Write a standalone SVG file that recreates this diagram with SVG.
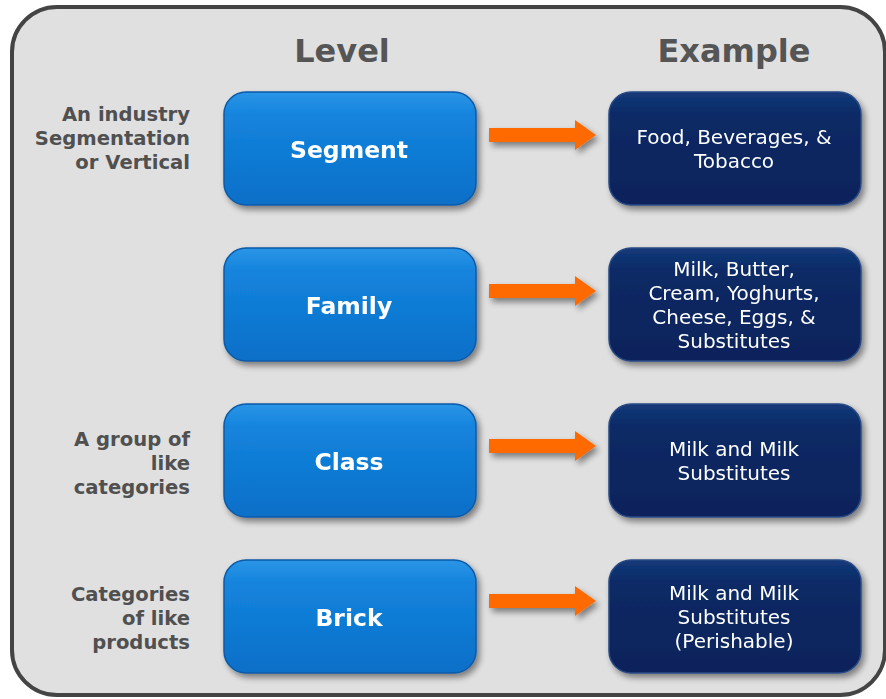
<svg xmlns="http://www.w3.org/2000/svg" width="886" height="699" viewBox="0 0 886 699">
<defs>
<linearGradient id="blue" x1="0" y1="0" x2="0" y2="1">
<stop offset="0" stop-color="#2b95e6"/>
<stop offset="0.2" stop-color="#1484dd"/>
<stop offset="1" stop-color="#0a6fc8"/>
</linearGradient>
<linearGradient id="navy" x1="0" y1="0" x2="0" y2="1">
<stop offset="0" stop-color="#143a7a"/>
<stop offset="0.2" stop-color="#0a2a66"/>
<stop offset="1" stop-color="#07235a"/>
</linearGradient>
<filter id="sh" x="-10%" y="-10%" width="125%" height="130%">
<feGaussianBlur in="SourceAlpha" stdDeviation="3"/>
<feOffset dx="3" dy="4" result="b"/>
<feComponentTransfer><feFuncA type="linear" slope="0.45"/></feComponentTransfer>
<feMerge><feMergeNode/><feMergeNode in="SourceGraphic"/></feMerge>
</filter>
</defs>
<style>
.hdr{font-family:"DejaVu Sans",Verdana,sans-serif;font-weight:bold;font-size:32px;fill:#555;text-anchor:middle}
.lab{font-family:"DejaVu Sans",Verdana,sans-serif;font-weight:bold;font-size:19.6px;fill:#505050;text-anchor:end}
.lvl rect{fill:url(#blue);stroke:#0a5aa8;stroke-width:1.5}
.lvl text{font-family:"DejaVu Sans",Verdana,sans-serif;font-weight:bold;font-size:23.5px;fill:#fff;text-anchor:middle}
.ex rect{fill:url(#navy);stroke:#2a4a84;stroke-width:1.5}
.ex text{font-family:"DejaVu Sans",Verdana,sans-serif;font-size:20px;fill:#fff;text-anchor:middle}
.arr{fill:#ff6a00}
</style>
<rect x="0" y="0" width="886" height="699" fill="#fff"/>
<rect id="frame" x="12" y="7" width="873" height="688" rx="45" fill="#e0e0e0" stroke="#444" stroke-width="4"/>
<g id="headers">
<text class="hdr" x="342" y="62">Level</text>
<text class="hdr" x="734" y="62">Example</text>
</g>
<g id="labels">
<text class="lab" x="190" y="121">An industry</text>
<text class="lab" x="190" y="145">Segmentation</text>
<text class="lab" x="190" y="169">or Vertical</text>
<text class="lab" x="190" y="446">A group of</text>
<text class="lab" x="190" y="470">like</text>
<text class="lab" x="190" y="494">categories</text>
<text class="lab" x="190" y="601">Categories</text>
<text class="lab" x="190" y="625">of like</text>
<text class="lab" x="190" y="649">products</text>
</g>
<g id="segment" class="lvl" filter="url(#sh)">
<rect x="224" y="92" width="252" height="113" rx="22"/>
<text x="349" y="158">Segment</text>
</g>
<g id="family" class="lvl" filter="url(#sh)">
<rect x="224" y="248" width="252" height="113" rx="22"/>
<text x="349" y="314">Family</text>
</g>
<g id="class" class="lvl" filter="url(#sh)">
<rect x="224" y="404" width="252" height="113" rx="22"/>
<text x="349" y="470">Class</text>
</g>
<g id="brick" class="lvl" filter="url(#sh)">
<rect x="224" y="560" width="252" height="113" rx="22"/>
<text x="349" y="626">Brick</text>
</g>
<g id="ex-segment" class="ex" filter="url(#sh)">
<rect x="609" y="92" width="252" height="113" rx="22"/>
<text x="734" y="144">Food, Beverages, &amp;</text>
<text x="734" y="168">Tobacco</text>
</g>
<g id="ex-family" class="ex" filter="url(#sh)">
<rect x="609" y="248" width="252" height="113" rx="22"/>
<text x="734" y="276">Milk, Butter,</text>
<text x="734" y="300">Cream, Yoghurts,</text>
<text x="734" y="324">Cheese, Eggs, &amp;</text>
<text x="734" y="348">Substitutes</text>
</g>
<g id="ex-class" class="ex" filter="url(#sh)">
<rect x="609" y="404" width="252" height="113" rx="22"/>
<text x="734" y="456">Milk and Milk</text>
<text x="734" y="480">Substitutes</text>
</g>
<g id="ex-brick" class="ex" filter="url(#sh)">
<rect x="609" y="560" width="252" height="113" rx="22"/>
<text x="734" y="600">Milk and Milk</text>
<text x="734" y="624">Substitutes</text>
<text x="734" y="648">(Perishable)</text>
</g>
<g id="connectors" filter="url(#sh)">
<polygon class="arr" points="489,128 575,128 575,120 596,135 575,150 575,142 489,142"/>
<polygon class="arr" points="489,284 575,284 575,276 596,291 575,306 575,298 489,298"/>
<polygon class="arr" points="489,439 575,439 575,431 596,446 575,461 575,453 489,453"/>
<polygon class="arr" points="489,594 575,594 575,586 596,601 575,616 575,608 489,608"/>
</g>
</svg>
